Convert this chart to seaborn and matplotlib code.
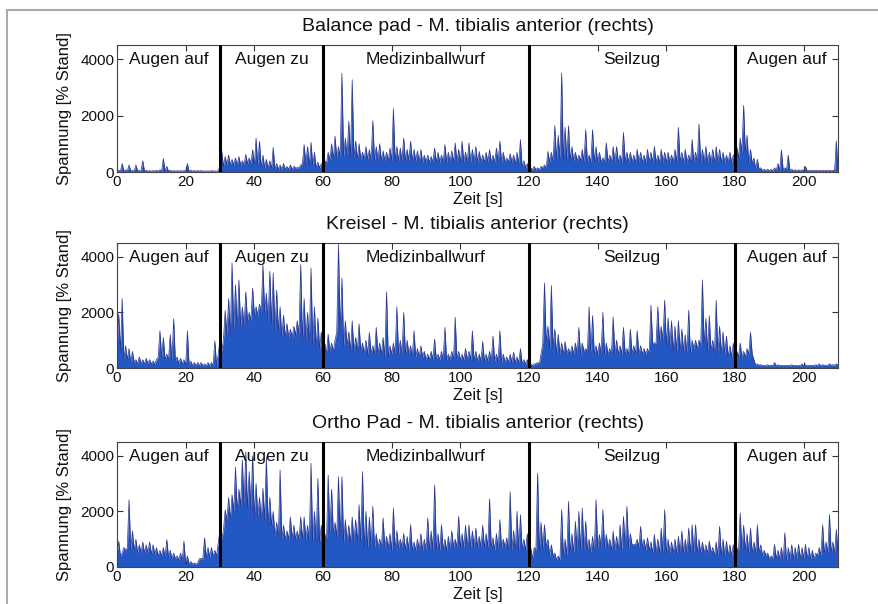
import numpy as np
import seaborn as sns
import matplotlib.pyplot as plt
from matplotlib.lines import Line2D

# phases of the test (seconds) and their names
phase_edges = [0, 30, 60, 120, 180, 210]
phase_names = ["Augen auf", "Augen zu", "Medizinballwurf", "Seilzug", "Augen auf"]

titles = [
    "Balance pad - M. tibialis anterior (rechts)",
    "Kreisel - M. tibialis anterior (rechts)",
    "Ortho Pad - M. tibialis anterior (rechts)",
]

# peak value in every second (0..209)
balance_peaks = [
    60, 300, 80, 250, 60, 250, 60, 400, 60, 50,
    50, 60, 80, 480, 200, 60, 50, 50, 50, 50,
    300, 60, 50, 50, 50, 40, 40, 50, 40, 50,
    750, 550, 600, 450, 500, 550, 400, 620, 500, 790,
    1200, 1090, 600, 450, 400, 870, 300, 250, 300, 200,
    250, 200, 150, 250, 970, 900, 1050, 700, 350, 300,
    400, 700, 1000, 1270, 900, 3500, 1200, 1800, 3270, 1100,
    1000, 700, 900, 800, 1820, 900, 1000, 750, 700, 850,
    2240, 900, 850, 1200, 800, 1090, 800, 750, 800, 600,
    600, 550, 850, 700, 600, 970, 700, 750, 1030, 800,
    1090, 700, 1030, 800, 900, 730, 600, 700, 790, 600,
    850, 1090, 700, 500, 650, 600, 700, 1150, 400, 300,
    150, 200, 150, 200, 250, 730, 700, 1640, 1300, 3500,
    1580, 1640, 900, 700, 600, 800, 1500, 600, 1500, 900,
    700, 500, 1030, 600, 900, 900, 600, 1400, 700, 700,
    600, 800, 700, 600, 800, 700, 910, 600, 800, 700,
    700, 600, 800, 1580, 700, 800, 600, 1150, 700, 1700,
    800, 900, 700, 800, 900, 800, 700, 600, 700, 600,
    900, 1200, 2360, 1300, 800, 500, 450, 150, 100, 100,
    100, 150, 300, 790, 150, 600, 100, 80, 80, 80,
    200, 60, 60, 60, 60, 60, 60, 60, 60, 1100,
]
kreisel_peaks = [
    1950, 2500, 800, 700, 600, 300, 400, 300, 350, 300,
    250, 300, 1340, 1100, 500, 1200, 1770, 400, 350, 300,
    1340, 250, 200, 200, 200, 150, 200, 200, 980, 500,
    600, 2070, 2500, 3780, 2990, 3170, 2200, 2740, 2000, 2870,
    2200, 2300, 3720, 2700, 3480, 3420, 2800, 2200, 1900, 1600,
    1400, 1500, 1700, 3720, 2500, 2000, 3600, 2200, 1800, 1300,
    900, 1220, 900, 1000, 4450, 3230, 1700, 1300, 1700, 1100,
    1590, 900, 1000, 1280, 800, 1460, 900, 1100, 2740, 800,
    900, 2200, 1000, 2000, 1000, 800, 1340, 700, 800, 600,
    500, 600, 1040, 500, 600, 1460, 500, 600, 1830, 600,
    500, 700, 600, 1340, 600, 500, 950, 500, 600, 1150,
    500, 1340, 500, 400, 500, 570, 400, 700, 300, 300,
    150, 150, 200, 500, 3060, 1500, 2970, 1400, 1210, 900,
    950, 700, 800, 900, 1460, 900, 700, 2200, 1890, 800,
    900, 2000, 900, 700, 1830, 1000, 800, 1460, 700, 1400,
    800, 1340, 800, 700, 700, 2260, 900, 2200, 1500, 2440,
    1800, 1700, 1500, 1700, 1400, 1200, 2080, 1000, 1000, 1000,
    3170, 1800, 1890, 1000, 2440, 1500, 1300, 1150, 800, 900,
    600, 900, 600, 700, 1280, 300, 150, 120, 100, 120,
    100, 200, 120, 100, 100, 100, 120, 100, 100, 150,
    120, 100, 100, 120, 150, 120, 100, 150, 120, 150,
]
ortho_peaks = [
    930, 500, 600, 2420, 1300, 1000, 800, 900, 800, 900,
    800, 700, 600, 700, 990, 600, 500, 400, 500, 930,
    400, 200, 150, 150, 300, 1050, 700, 700, 600, 900,
    1000, 2060, 2500, 2600, 3600, 2800, 3850, 4140, 3430, 4000,
    3000, 2500, 2830, 3960, 2500, 2000, 1600, 3490, 1500, 1300,
    1800, 1500, 1300, 1800, 1800, 1500, 3730, 2000, 3190, 1500,
    1200, 3310, 2800, 1600, 3250, 3250, 1700, 1500, 1800, 1700,
    2240, 3430, 2000, 1800, 2180, 1200, 1000, 1760, 1100, 1200,
    2120, 1300, 1000, 1200, 1100, 1520, 900, 1000, 1200, 1000,
    1760, 1300, 2950, 1200, 1520, 1000, 1100, 1300, 1000, 1820,
    1200, 1500, 1520, 1300, 1400, 1100, 1500, 1200, 2450, 1050,
    1200, 1700, 1000, 1050, 2710, 1300, 2000, 1880, 1000, 1200,
    700, 700, 3370, 1600, 1520, 1000, 800, 500, 400, 2060,
    1000, 2360, 1200, 1640, 2000, 2120, 1640, 1000, 1100, 2420,
    1170, 2060, 1170, 1000, 1290, 1100, 1520, 1820, 2180, 1200,
    810, 1000, 1460, 1000, 1050, 900, 1170, 1000, 1400, 2060,
    1000, 900, 1000, 1100, 1290, 1000, 1400, 1520, 1520, 1000,
    900, 800, 930, 700, 900, 1460, 1000, 930, 800, 800,
    700, 1940, 1500, 1200, 1400, 900, 1520, 800, 600, 500,
    400, 810, 600, 700, 1230, 700, 800, 700, 810, 700,
    810, 700, 600, 500, 700, 1520, 900, 1880, 900, 1350,
]

# dense level of the signal, one value per 2 seconds
balance_base = [
    30, 30, 30, 30, 30, 30, 30, 30, 30, 30, 30, 30, 30, 30, 30,
    200, 250, 250, 250, 300, 250, 150, 120, 100, 100, 100, 150, 300, 250, 150,
    300, 450, 500, 550, 500, 450, 450, 400, 400, 400, 400, 400, 400, 400, 350,
    350, 350, 350, 350, 350, 350, 350, 350, 350, 350, 350, 350, 350, 300, 150,
    80, 80, 150, 350, 450, 450, 400, 400, 350, 350, 350, 350, 350, 350, 350,
    350, 350, 350, 350, 350, 350, 350, 350, 350, 350, 350, 350, 350, 350, 350,
    500, 700, 300, 100, 50, 40, 60, 80, 40, 40, 40, 40, 40, 40, 40,
]
kreisel_base = [
    600, 300, 200, 150, 150, 150, 400, 300, 250, 150, 100, 80, 80, 80, 100,
    1000, 1200, 1400, 1500, 1700, 1900, 2000, 1600, 1300, 1100, 1100, 1200, 1000, 900, 700,
    500, 600, 1300, 800, 600, 600, 500, 500, 500, 400, 500, 500, 500, 400, 400,
    300, 300, 300, 300, 300, 300, 300, 250, 250, 250, 250, 200, 200, 200, 150,
    80, 150, 900, 700, 500, 500, 500, 500, 600, 500, 500, 500, 500, 500, 500,
    500, 500, 500, 900, 1000, 800, 600, 600, 500, 700, 800, 600, 500, 500, 400,
    400, 400, 500, 100, 80, 80, 80, 80, 80, 80, 80, 80, 80, 100, 100,
]
ortho_base = [
    400, 700, 600, 500, 500, 450, 400, 350, 300, 250, 100, 100, 300, 350, 400,
    1300, 1700, 2000, 2200, 2100, 1800, 1700, 1500, 1100, 1000, 1000, 1000, 1000, 900, 900,
    900, 1200, 1100, 900, 900, 900, 700, 700, 700, 700, 600, 700, 600, 600, 600,
    600, 600, 600, 600, 700, 700, 700, 700, 700, 700, 600, 700, 600, 600, 600,
    300, 600, 700, 400, 250, 400, 500, 600, 600, 500, 700, 700, 600, 600, 700,
    800, 700, 600, 500, 500, 500, 500, 500, 500, 500, 500, 500, 400, 400, 400,
    500, 600, 500, 500, 400, 300, 300, 200, 300, 300, 300, 300, 400, 500, 500,
]

peaks_all = [balance_peaks, kreisel_peaks, ortho_peaks]
base_all = [balance_base, kreisel_base, ortho_base]

sns.set_theme(style="ticks")
plt.rcParams["font.family"] = ["Liberation Sans", "DejaVu Sans"]

fig = plt.figure(figsize=(8.79, 6.04), dpi=100)
fill_col = "#2358c4"
line_col = "#2b3388"

# axes boxes in figure fractions (left, bottom, width, height)
boxes = [
    (0.1331, 0.7152, 0.8203, 0.2103),
    (0.1331, 0.3907, 0.8203, 0.2070),
    (0.1331, 0.0613, 0.8203, 0.2070),
]

for box, title, peaks, base in zip(boxes, titles, peaks_all, base_all):
    ax = fig.add_axes(box)
    sec = np.arange(len(peaks))
    trough = np.repeat(base, 2)[: len(peaks)]
    t = np.column_stack([sec, sec + 0.5]).ravel()
    sig = np.column_stack([trough, peaks]).ravel().astype(float)
    t = np.append(t, len(peaks))
    sig = np.append(sig, trough[-1])

    ax.fill_between(t, sig, color=fill_col, lw=0)
    sns.lineplot(x=t, y=sig, ax=ax, color=line_col, linewidth=0.5,
                 estimator=None, sort=False)

    for edge in phase_edges[1:-1]:
        ax.axvline(edge, color="black", lw=2.2, zorder=5)
    for a, b, name in zip(phase_edges[:-1], phase_edges[1:], phase_names):
        ax.text((a + b) / 2, 3980, name, ha="center", va="center",
                fontsize=12.5, color="#111111", zorder=6)

    ax.set_xlim(0, 210)
    ax.set_ylim(0, 4500)
    ax.set_xticks(range(0, 201, 20))
    ax.set_yticks([0, 2000, 4000])
    ax.tick_params(direction="in", top=True, right=True, length=4,
                   width=0.8, labelsize=11, pad=2, colors="#333333",
                   labelcolor="#111111")
    for sp in ax.spines.values():
        sp.set_visible(True)
        sp.set_color("#444444")
        sp.set_linewidth(0.8)
    ax.set_title(title, fontsize=14, pad=10, color="#111111")
    ax.set_xlabel("Zeit [s]", fontsize=12, labelpad=2.5, color="#111111")
    ax.set_ylabel("Spannung [% Stand]", fontsize=12, labelpad=6,
                  color="#111111")

# light grey frame at top and left of the page
fig.add_artist(Line2D([7 / 879, 1], [1 - 10 / 604, 1 - 10 / 604],
                      color="#aaaaaa", lw=1.5))
fig.add_artist(Line2D([7 / 879, 7 / 879], [0, 1 - 10 / 604],
                      color="#aaaaaa", lw=1.5))

fig.savefig("out.png", dpi=100)
